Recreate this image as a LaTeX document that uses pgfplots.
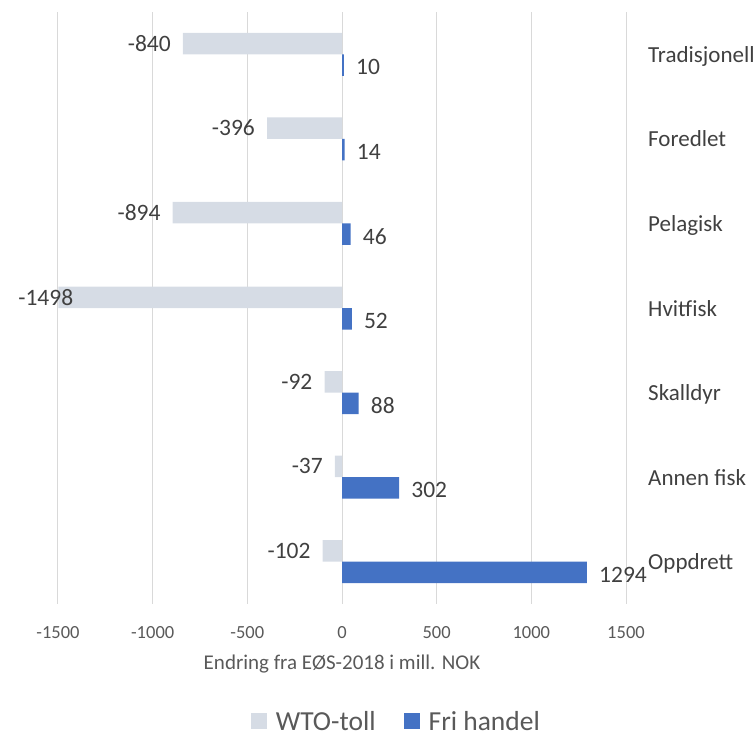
\documentclass[border=0pt]{standalone}
\usepackage{pgfplots}
\usepackage{pgfplotstable}
\pgfplotsset{compat=1.18}
\usepackage{fontspec}
\setmainfont{Carlito}
\definecolor{wto}{HTML}{D6DCE5}
\definecolor{fri}{HTML}{4472C4}
\definecolor{gridc}{HTML}{D9D9D9}
\definecolor{lbl}{HTML}{404040}
\definecolor{tickc}{HTML}{595959}
\pgfplotstableread{
y  x     lab   dx
0  -840  -840  -12
1  -396  -396  -12
2  -894  -894  -12
3  -1498 -1498 15
4  -92   -92   -12
5  -37   -37   -12
6  -102  -102  -12
}\wtodata
\pgfplotstableread{
y  x     lab   dx
0  10    10    12
1  14    14    12
2  46    46    12
3  52    52    12
4  88    88    12
5  302   302   12
6  1294  1294  12
}\fridata
\begin{document}
\begin{tikzpicture}
\useasboundingbox (0pt,0pt) rectangle (756pt,739pt);
\begin{axis}[
  at={(58pt,135pt)}, anchor=south west,
  scale only axis, width=568pt, height=592pt,
  xbar, bar width=21.5pt,
  xmin=-1500, xmax=1500,
  ymin=-0.5, ymax=6.5, y dir=reverse,
  xtick={-1500,-1000,...,1500},
  ytick={0,...,6},
  yticklabels={Tradisjonell,Foredlet,Pelagisk,Hvitfisk,Skalldyr,Annen fisk,Oppdrett},
  yticklabel pos=right,
  major tick length=0pt,
  xmajorgrids, major grid style={gridc, line width=1pt},
  axis line style={draw=none},
  /pgf/number format/.cd, 1000 sep={}, assume math mode=true, /pgfplots/.cd,
  xticklabel style={font=\fontsize{18.5}{20}\selectfont, text=tickc, anchor=base, inner sep=0pt, yshift=-34pt},
  yticklabel style={font=\fontsize{23}{26}\selectfont, text=lbl, anchor=base west, inner sep=0pt, xshift=22pt, yshift=-8pt},
  xlabel={Endring fra EØS-2018 i mill. NOK},
  xlabel style={font=\fontsize{21}{24}\selectfont, text=tickc, at={(axis description cs:0.5,0)}, anchor=base, inner sep=0pt, yshift=-65pt},
  point meta=explicit symbolic,
  nodes near coords,
  visualization depends on={\thisrow{dx} \as \dx},
  nodes near coords style={font=\fontsize{23.5}{26}\selectfont, text=lbl, inner sep=0pt, xshift=\dx pt},
  legend style={at={(axis description cs:0.594,-0.198)}, anchor=center, draw=none, fill=none,
    font=\fontsize{27.5}{30}\selectfont, text=tickc, nodes={inner sep=0pt},
    /tikz/every odd column/.append style={column sep=9pt},
    /tikz/every even column/.append style={column sep=28pt}},
  legend columns=2,
  legend image code/.code={\draw[#1,draw=none] (0pt,-8pt) rectangle (16pt,8pt);},
]
\addplot[fill=wto, draw=none, bar shift=10.75pt,
  every node near coord/.append style={anchor=east}]
  table[x=x, y=y, meta=lab] {\wtodata};
\addplot[fill=fri, draw=none, bar shift=-10.75pt,
  every node near coord/.append style={anchor=west, yshift=-2pt}]
  table[x=x, y=y, meta=lab] {\fridata};
\legend{WTO-toll, Fri handel}
\end{axis}
\end{tikzpicture}
\end{document}
